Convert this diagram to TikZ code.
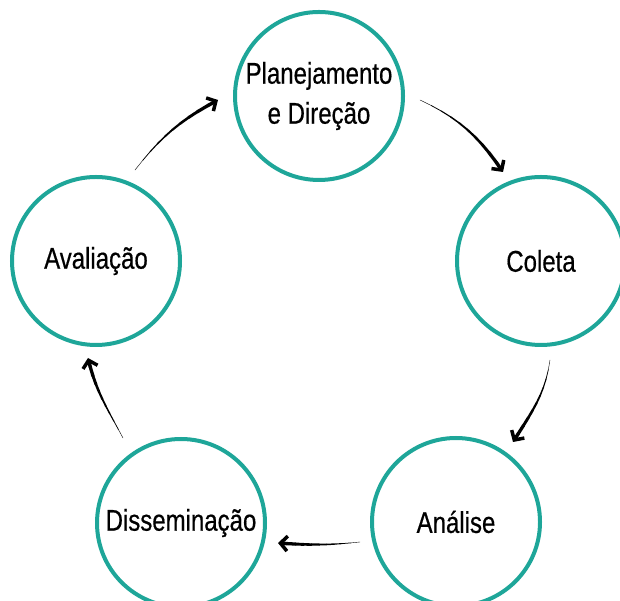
\documentclass[tikz,border=0pt]{standalone}
\usepackage{fontspec}
\setmainfont[FakeStretch=0.8,FakeBold=0.5]{Liberation Sans}
\usetikzlibrary{arrows.meta}
\definecolor{teal1}{RGB}{30,166,153}
\tikzset{
  stage/.style={circle, draw=teal1, line width=4pt, minimum size=168pt, inner sep=0pt,
    font=\fontsize{30}{40}\selectfont, align=center, text=black},
}
\newcommand\taperarrow[4]{%
  \path (#1) to[out=#3,in=#4]
    coordinate[pos=0](p0) coordinate[pos=0.1](p1) coordinate[pos=0.2](p2)
    coordinate[pos=0.3](p3) coordinate[pos=0.4](p4) coordinate[pos=0.5](p5)
    coordinate[pos=0.6](p6) coordinate[pos=0.7](p7) coordinate[pos=0.8](p8)
    coordinate[pos=0.9](p9) coordinate[pos=1](p10) (#2);
  \foreach \i [evaluate=\i as \j using int(\i+1), evaluate=\i as \w using 0.4+0.36*\i] in {0,...,8} {
    \draw[line width=\w pt, line cap=round] (p\i) -- (p\j);
  }
  \draw[line width=3.5pt, -{Straight Barb[length=7pt,width=15pt]}] (p9) -- (p10);
}
\begin{document}
\begin{tikzpicture}[x=1pt,y=1pt]
\useasboundingbox (0,0) rectangle (620,601);
\node[stage] (plan) at (319,505) {Planejamento\\e Direção};
\node[stage] (coleta) at (541,340) {Coleta};
\node[stage] (analise) at (456,79) {Análise};
\node[stage] (dissem) at (181,78) {Disseminação};
\node[stage] (aval) at (96,340) {Avaliação};
\coordinate (a1s) at (420,501); \coordinate (a1e) at (503,429);
\coordinate (a2s) at (550,241); \coordinate (a2e) at (513,159);
\coordinate (a3s) at (360,59);  \coordinate (a3e) at (278,58);
\coordinate (a4s) at (123,163); \coordinate (a4e) at (88,243);
\coordinate (a5s) at (135,431); \coordinate (a5e) at (218,501);
\taperarrow{a1s}{a1e}{-25}{124}
\taperarrow{a2s}{a2e}{-98}{58}
\taperarrow{a3s}{a3e}{-174}{-4}
\taperarrow{a4s}{a4e}{118}{-77}
\taperarrow{a5s}{a5e}{52}{-152}
\end{tikzpicture}
\end{document}
